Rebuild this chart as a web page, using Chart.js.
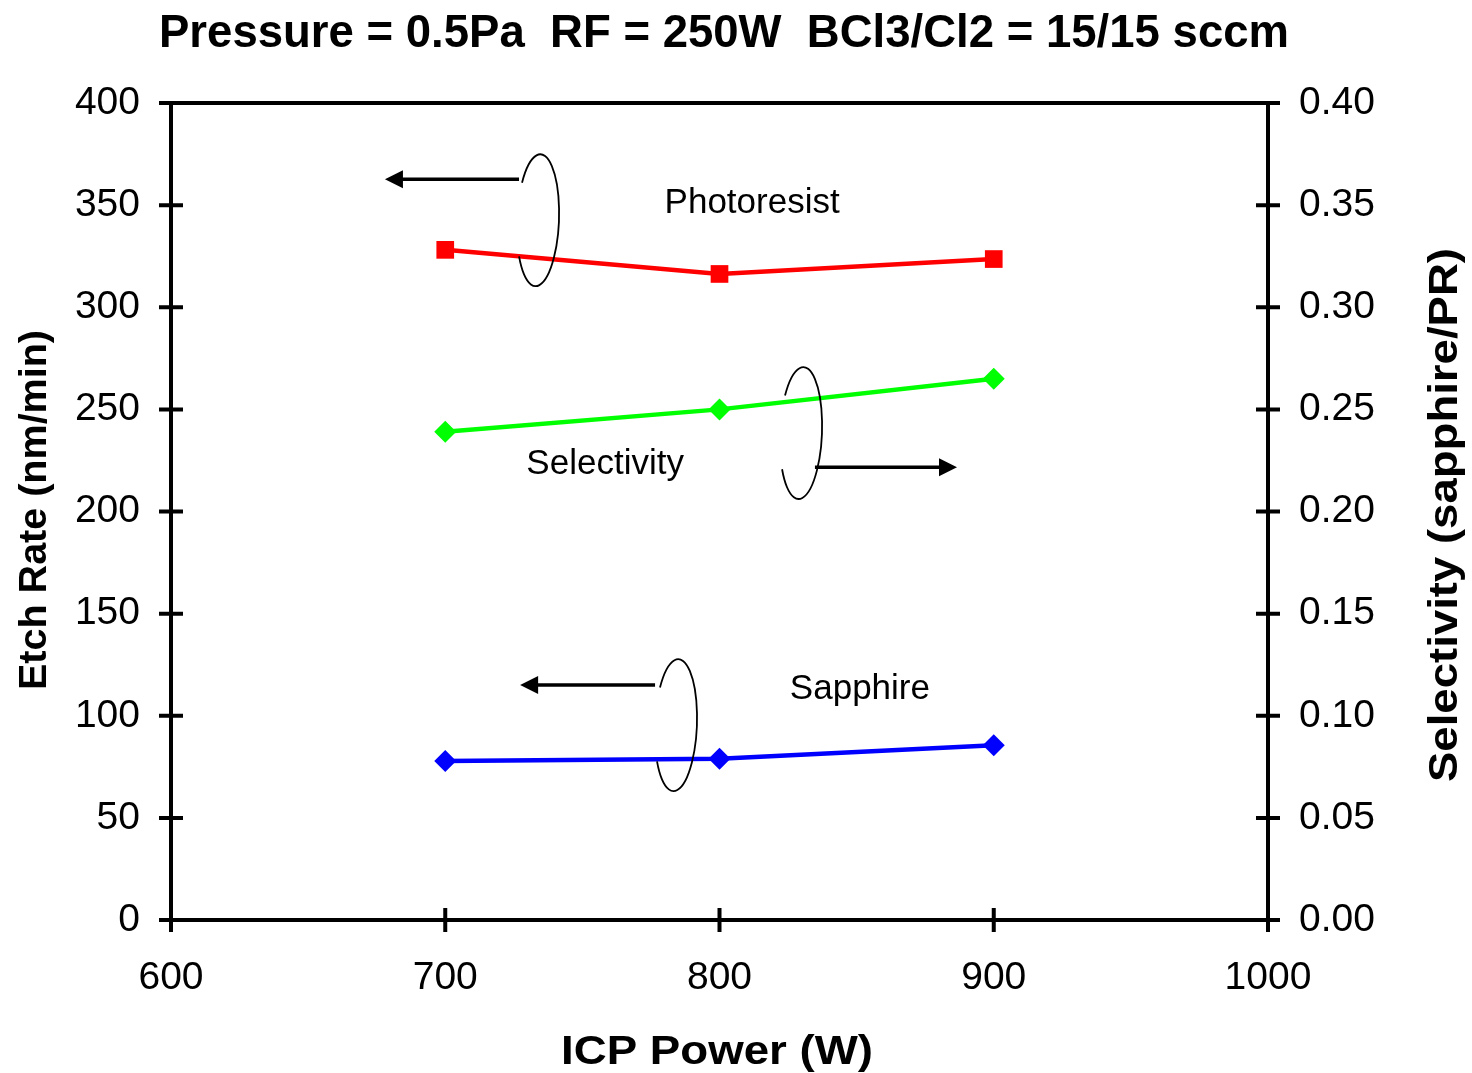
<!DOCTYPE html>
<html>
<head>
<meta charset="utf-8">
<script src="https://cdn.jsdelivr.net/npm/chart.js@4.4.1/dist/chart.umd.min.js"></script>
<style>
  html, body { margin: 0; padding: 0; background: #ffffff; }
  #wrap { width: 1472px; height: 1073px; }
</style>
</head>
<body>
<div id="wrap"><canvas id="c" width="1472" height="1073"></canvas></div>
<script>
// ---- data ----
const icpPower = [700, 800, 900];
const photoresistRate = [328.1, 316.3, 323.6];
const sapphireRate = [77.8, 79.0, 85.5];
const selectivity = [0.239, 0.250, 0.265];

const xTickValues = [600, 700, 800, 900, 1000];
const yTickValues = [0, 50, 100, 150, 200, 250, 300, 350, 400];
const y2TickValues = [0.00, 0.05, 0.10, 0.15, 0.20, 0.25, 0.30, 0.35, 0.40];

const chartTitle = 'Pressure = 0.5Pa  RF = 250W  BCl3/Cl2 = 15/15 sccm';
const xTitle = 'ICP Power (W)';
const yTitle = 'Etch Rate (nm/min)';
const y2Title = 'Selectivity (sapphire/PR)';

// annotation labels / brackets (positions in data units: x = ICP power, y = left axis)
const noteText = ['Photoresist', 'Selectivity', 'Sapphire'];
const notes = [
  { lx: 811.9, ly: 346.1, bx: 733.8, by: 342.6, ay: 362.7, ax0: 726.9, ax1: 678.0 },
  { lx: 758.3, ly: 218.3, bx: 829.7, by: 238.4, ay: 221.7, ax0: 834.8, ax1: 886.6 },
  { lx: 851.2, ly: 108.2, bx: 784.1, by: 95.4,  ay: 115.0, ax0: 776.5, ax1: 727.3 }
];

const FONT = '"Liberation Sans", Arial, Helvetica, sans-serif';

function fitText(ctx, text, font, cx, cy, len, rot) {
  ctx.save();
  ctx.font = font;
  const w = ctx.measureText(text).width;
  ctx.translate(cx, cy);
  ctx.rotate(rot);
  ctx.scale(len / w, 1);
  ctx.textAlign = 'center';
  ctx.textBaseline = 'alphabetic';
  ctx.fillStyle = '#000';
  ctx.fillText(text, 0, 0);
  ctx.restore();
}

const decorPlugin = {
  id: 'decor',
  afterDraw(chart) {
    const ctx = chart.ctx;
    const a = chart.chartArea;
    const xs = chart.scales.x, ys = chart.scales.y, y2s = chart.scales.y2;
    ctx.save();
    ctx.strokeStyle = '#000';
    ctx.fillStyle = '#000';
    ctx.lineWidth = 4;
    ctx.lineCap = 'butt';
    // top frame line
    ctx.beginPath();
    ctx.moveTo(a.left - 2, a.top);
    ctx.lineTo(a.right + 2, a.top);
    ctx.stroke();
    // crossing tick marks
    const tl = 12;
    ctx.beginPath();
    xTickValues.forEach(v => {
      const p = xs.getPixelForValue(v);
      ctx.moveTo(p, a.bottom - tl); ctx.lineTo(p, a.bottom + tl);
    });
    yTickValues.forEach(v => {
      const p = ys.getPixelForValue(v);
      ctx.moveTo(a.left - tl, p); ctx.lineTo(a.left + tl, p);
    });
    y2TickValues.forEach(v => {
      const p = y2s.getPixelForValue(v);
      ctx.moveTo(a.right - tl, p); ctx.lineTo(a.right + tl, p);
    });
    ctx.stroke();

    // annotations
    notes.forEach((n, i) => {
      ctx.font = '35px ' + FONT;
      ctx.textAlign = 'center';
      ctx.textBaseline = 'alphabetic';
      ctx.fillText(noteText[i], xs.getPixelForValue(n.lx), ys.getPixelForValue(n.ly));
      // bracket (open ellipse)
      ctx.lineWidth = 1.8;
      ctx.beginPath();
      ctx.ellipse(xs.getPixelForValue(n.bx), ys.getPixelForValue(n.by), 21, 66, 0.04,
                  214 * Math.PI / 180, (146 + 360) * Math.PI / 180, false);
      ctx.stroke();
      // arrow
      const x0 = xs.getPixelForValue(n.ax0), x1 = xs.getPixelForValue(n.ax1);
      const y = ys.getPixelForValue(n.ay);
      const dir = Math.sign(x1 - x0);
      ctx.lineWidth = 3.5;
      ctx.beginPath();
      ctx.moveTo(x0, y);
      ctx.lineTo(x1 - dir * 14, y);
      ctx.stroke();
      ctx.beginPath();
      ctx.moveTo(x1, y);
      ctx.lineTo(x1 - dir * 18, y - 9);
      ctx.lineTo(x1 - dir * 18, y + 9);
      ctx.closePath();
      ctx.fill();
    });

    // titles
    fitText(ctx, chartTitle, 'bold 46px ' + FONT, 724, 47, 1130, 0);
    fitText(ctx, xTitle, 'bold 40px ' + FONT, 717, 1064, 312, 0);
    fitText(ctx, yTitle, 'bold 38px ' + FONT, 46, 510, 360, -Math.PI / 2);
    fitText(ctx, y2Title, 'bold 40px ' + FONT, 1457, 515, 534, -Math.PI / 2);
    ctx.restore();
  }
};

const tickFont = { family: FONT, size: 39, weight: 'normal' };

new Chart(document.getElementById('c'), {
  type: 'line',
  data: {
    datasets: [
      {
        label: 'Photoresist',
        data: icpPower.map((x, i) => ({ x, y: photoresistRate[i] })),
        yAxisID: 'y',
        borderColor: '#FF0000', backgroundColor: '#FF0000',
        borderWidth: 4.5, pointStyle: 'rect', pointRadius: 12.5, pointBorderWidth: 0,
        pointHoverRadius: 12.5, tension: 0
      },
      {
        label: 'Selectivity',
        data: icpPower.map((x, i) => ({ x, y: selectivity[i] })),
        yAxisID: 'y2',
        borderColor: '#00FF00', backgroundColor: '#00FF00',
        borderWidth: 4.5, pointStyle: 'rectRot', pointRadius: 11, pointBorderWidth: 0,
        pointHoverRadius: 11, tension: 0
      },
      {
        label: 'Sapphire',
        data: icpPower.map((x, i) => ({ x, y: sapphireRate[i] })),
        yAxisID: 'y',
        borderColor: '#0000FF', backgroundColor: '#0000FF',
        borderWidth: 4.5, pointStyle: 'rectRot', pointRadius: 11, pointBorderWidth: 0,
        pointHoverRadius: 11, tension: 0
      }
    ]
  },
  options: {
    responsive: false,
    animation: false,
    devicePixelRatio: 1,
    layout: { padding: { top: 103, left: 0, right: 0, bottom: 0 } },
    plugins: { legend: { display: false }, tooltip: { enabled: false }, title: { display: false } },
    scales: {
      x: {
        type: 'linear', position: 'bottom', min: 600, max: 1000,
        afterBuildTicks: s => { s.ticks = xTickValues.map(v => ({ value: v })); },
        afterFit: s => { s.height = 153; },
        ticks: { font: tickFont, color: '#000', padding: 35, maxRotation: 0, autoSkip: false,
                 callback: v => String(v) },
        grid: { display: false, drawTicks: false },
        border: { display: true, color: '#000', width: 4 }
      },
      y: {
        type: 'linear', position: 'left', min: 0, max: 400,
        afterBuildTicks: s => { s.ticks = yTickValues.map(v => ({ value: v })); },
        afterFit: s => { s.width = 171; },
        ticks: { font: tickFont, color: '#000', padding: 31, autoSkip: false,
                 callback: v => String(v) },
        grid: { display: false, drawTicks: false },
        border: { display: true, color: '#000', width: 4 }
      },
      y2: {
        type: 'linear', position: 'right', min: 0, max: 0.4,
        afterBuildTicks: s => { s.ticks = y2TickValues.map(v => ({ value: v })); },
        afterFit: s => { s.width = 204; },
        ticks: { font: tickFont, color: '#000', padding: 31, autoSkip: false,
                 callback: v => Number(v).toFixed(2) },
        grid: { display: false, drawTicks: false },
        border: { display: true, color: '#000', width: 4 }
      }
    }
  },
  plugins: [decorPlugin]
});
</script>
</body>
</html>
